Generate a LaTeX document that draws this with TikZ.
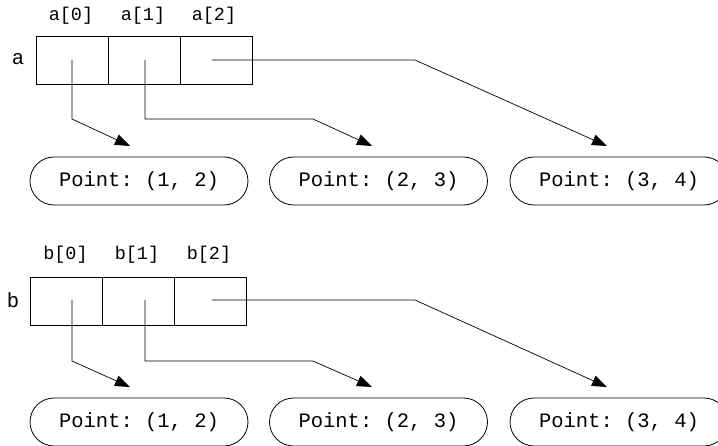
\documentclass[tikz,border=0pt]{standalone}
\usepackage{fontspec}
\setmonofont{Liberation Mono}
\usetikzlibrary{arrows.meta,shapes.misc}
\begin{document}
\begin{tikzpicture}[x=1pt,y=-1pt,
  txt/.style={font=\ttfamily\fontsize{20.5}{24}\selectfont, inner sep=0pt},
  idx/.style={font=\ttfamily\fontsize{18.5}{22}\selectfont, inner sep=0pt},
  cellbox/.style={draw, line width=0.8pt, minimum width=72pt, minimum height=48pt, inner sep=0pt, outer sep=0pt},
  pointobj/.style={draw, line width=0.8pt, rounded rectangle, minimum width=218pt, minimum height=48pt, inner sep=0pt,
    font=\ttfamily\fontsize{20.5}{24}\selectfont},
  ptr/.style={line width=0.7pt, -{Triangle[length=15pt,width=11pt]}}]
\useasboundingbox (0,0) rectangle (718,446);

% ---- array a ----
\node[cellbox] (a0) at (72,60) {};
\node[cellbox] (a1) at (144,60) {};
\node[cellbox] (a2) at (216,60) {};
\node[txt] (la) at (18,59) {a};
\node[idx] (la0) at (71,16) {a[0]};
\node[idx] (la1) at (143,16) {a[1]};
\node[idx] (la2) at (214,16) {a[2]};

\node[pointobj] (pa0) at (139,181) {Point: (1, 2)};
\node[pointobj] (pa1) at (378.5,181) {Point: (2, 3)};
\node[pointobj] (pa2) at (619,181) {Point: (3, 4)};

\coordinate (sa0) at (72,60);
\coordinate (sa1) at (145,60);
\coordinate (sa2) at (212,60);
\coordinate (ka0) at (72,119);
\coordinate (ka1) at (313,119);
\coordinate (ka2) at (415,60);
\coordinate (ta0) at (130,146);
\coordinate (ta1) at (372,146);
\coordinate (ta2) at (607,146);

\draw[ptr] (sa0) -- (ka0) -- (ta0);
\draw[ptr] (sa1) |- (ka1) -- (ta1);
\draw[ptr] (sa2) -- (ka2) -- (ta2);

% ---- array b ----
\node[cellbox] (b0) at (66.7,301.5) {};
\node[cellbox, line width=1.2pt] (b1) at (138.7,301.5) {};
\node[cellbox] (b2) at (210.7,301.5) {};
\draw[line width=0.8pt] (b0.north west) rectangle (b2.south east);
\node[txt] (lb) at (13,300) {b};
\node[idx] (lb0) at (65.5,255) {b[0]};
\node[idx] (lb1) at (137,255) {b[1]};
\node[idx] (lb2) at (209,255) {b[2]};

\node[pointobj] (pb0) at (139,422) {Point: (1, 2)};
\node[pointobj] (pb1) at (378.5,422) {Point: (2, 3)};
\node[pointobj] (pb2) at (619,422) {Point: (3, 4)};

\coordinate (sb0) at (72,300);
\coordinate (sb1) at (145,300);
\coordinate (sb2) at (212,300);
\coordinate (kb0) at (72,361);
\coordinate (kb1) at (313,361);
\coordinate (kb2) at (415,300);
\coordinate (tb0) at (130,387);
\coordinate (tb1) at (372,387);
\coordinate (tb2) at (607,387);

\draw[ptr] (sb0) -- (kb0) -- (tb0);
\draw[ptr] (sb1) |- (kb1) -- (tb1);
\draw[ptr] (sb2) -- (kb2) -- (tb2);
\end{tikzpicture}
\end{document}
